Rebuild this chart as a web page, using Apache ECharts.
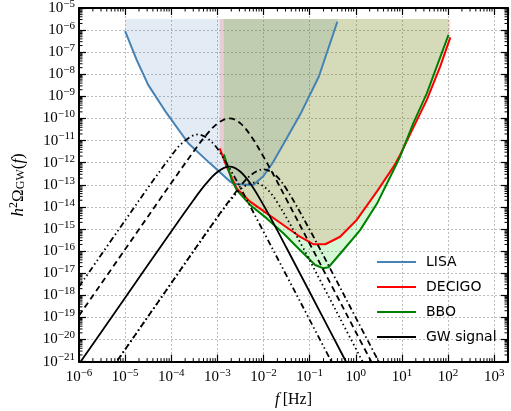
<!DOCTYPE html>
<html><head><meta charset="utf-8">
<script src="https://cdn.jsdelivr.net/npm/echarts@6/dist/echarts.min.js"></script>
<style>html,body{margin:0;padding:0;background:#fff}#c{width:511px;height:411px}</style>
</head><body><div id="c"></div>
<script>
// All positions are decimal exponents: x = log10(f / Hz), y = log10(h^2 Omega_GW)
// ---- axis ticks (log10 exponents) ----
const xTickExps = [-6,-5,-4,-3,-2,-1,0,1,2,3];
const yTickExps = [-21,-20,-19,-18,-17,-16,-15,-14,-13,-12,-11,-10,-9,-8,-7,-6,-5];
const minorMantissas = [2,3,4,5,6,7,8,9];

// ---- detector curves ----
const lisaLogF     = [-5.0,-4.75,-4.5,-4.1,-3.63,-3.16,-2.72,-2.65,-2.29,-2.22,-2.0,-1.8,-1.5,-1.2,-0.8,-0.4];
const lisaLogOmega = [-6.05,-7.35,-8.48,-9.76,-11.12,-12.03,-12.86,-12.95,-13.01,-13.01,-12.6,-12.0,-10.9,-9.8,-8.1,-5.62];

const decigoLogF     = [-2.95,-2.8,-2.58,-2.29,-1.93,-1.57,-1.21,-0.92,-0.66,-0.34,0.02,0.46,0.82,0.96,1.25,1.54,1.83,2.05];
const decigoLogOmega = [-11.35,-12.18,-13.16,-13.76,-14.29,-14.82,-15.35,-15.69,-15.69,-15.35,-14.59,-13.3,-12.18,-11.65,-10.4,-9.16,-7.65,-6.33];

const bboLogF     = [-2.86,-2.69,-2.58,-2.29,-1.93,-1.57,-1.21,-0.88,-0.70,-0.59,-0.27,0.095,0.46,0.82,0.96,1.25,1.54,2.01];
const bboLogOmega = [-11.62,-12.78,-13.24,-13.91,-14.52,-15.19,-15.95,-16.63,-16.78,-16.73,-15.95,-15.05,-13.85,-12.33,-11.73,-10.2,-8.86,-6.22];

const fillTopLog = -5.5;

// ---- GW signal curves ----
const gwSolidLogF     = [-6,-5,-4,-3.5,-3.25,-3,-2.74,-2.5,-2.25,-2,-1.75,-1.5,-1,-0.5,0];
const gwSolidLogOmega = [-21.11,-18.11,-15.11,-13.64,-12.96,-12.42,-12.18,-12.41,-13.05,-13.92,-14.87,-15.86,-17.85,-19.85,-21.85];

const gwDashedLogF     = [-6,-5,-4,-3.5,-3.25,-3,-2.74,-2.5,-2.25,-2,-1.75,-1.5,-1,-0.5,0,0.5];
const gwDashedLogOmega = [-18.92,-15.92,-12.92,-11.45,-10.77,-10.23,-9.99,-10.22,-10.86,-11.73,-12.68,-13.67,-15.66,-17.66,-19.66,-21.66];

const gwDashDotDotLogF     = [-6,-5,-4.5,-4,-3.75,-3.42,-3.1,-2.8,-2.5,-2,-1.5,-1,-0.5];
const gwDashDotDotLogOmega = [-17.61,-14.61,-13.12,-11.69,-11.09,-10.72,-11.11,-12.03,-13.14,-15.12,-17.11,-19.11,-21.11];

const gwDashDotLogF     = [-6,-5,-4,-3,-2.5,-2.25,-2,-1.75,-1.5,-1,-0.5,0,0.5];
const gwDashDotLogOmega = [-23.45,-20.45,-17.45,-14.46,-13.06,-12.52,-12.3,-12.55,-13.2,-15.03,-17.01,-19.01,-21.01];

const gwDottedLogF     = [-6,-5,-4,-3,-2.7,-2.45,-2.2,-1.95,-1.7,-1.2,-0.7,-0.2,0.3];
const gwDottedLogOmega = [-23.45,-20.45,-17.45,-14.48,-13.66,-13.12,-12.9,-13.15,-13.8,-15.63,-17.61,-19.61,-21.61];

const legendNames = ['LISA','DECIGO','BBO','GW signal'];

const X_MIN = -6, X_MAX = 3.3, Y_MIN = -21, Y_MAX = -5;

function pts(lx, ly){ return lx.map((v,i)=>[v, ly[i]]); }

const serif = "'Liberation Serif', 'DejaVu Serif', serif";
const sans = "'DejaVu Sans', sans-serif";

function powLabel(v){
  const e = Math.round(v);
  if (Math.abs(v - e) > 1e-6) return '';
  return '{b|10}{s|' + (e < 0 ? '\u2212' + (-e) : e) + '}';
}
const labelRich = {
  b: {fontFamily: serif, fontSize: 15, color: '#000'},
  s: {fontFamily: serif, fontSize: 11, color: '#000', padding: [0,0,8,0]}
};

function fillSeries(lx, ly, color, z){
  const data = pts(lx, ly);
  return {
    type: 'custom', silent: true, z: z, clip: true,
    xAxisIndex: 0, yAxisIndex: 0,
    data: [data[0]],
    renderItem: function(params, api){
      const poly = data.map(p => api.coord(p));
      poly.push(api.coord([data[data.length-1][0], fillTopLog]));
      poly.push(api.coord([data[0][0], fillTopLog]));
      return {type: 'polygon', shape: {points: poly}, style: {fill: color}};
    }
  };
}

// minor ticks at log10(m) + e
const minorX = [], minorY = [];
xTickExps.forEach(e => minorMantissas.forEach(m => { const v = e + Math.log10(m); if (v < X_MAX) minorX.push(v); }));
yTickExps.forEach(e => minorMantissas.forEach(m => { const v = e + Math.log10(m); if (v < Y_MAX) minorY.push(v); }));

const minorTickSeries = {
  type: 'custom', silent: true, z: 20, clip: false,
  xAxisIndex: 0, yAxisIndex: 0,
  data: [[0, -13]],
  renderItem: function(params, api){
    const x0 = api.coord([X_MIN, Y_MIN]), x1 = api.coord([X_MAX, Y_MAX]);
    const left = x0[0], bottom = x0[1], right = x1[0], top = x1[1];
    const L = 3.5, children = [];
    const st = {stroke: '#000', lineWidth: 1};
    minorX.forEach(v => {
      const x = api.coord([v, Y_MIN])[0];
      children.push({type:'line', shape:{x1:x,y1:bottom,x2:x,y2:bottom-L}, style: st});
      children.push({type:'line', shape:{x1:x,y1:top,x2:x,y2:top+L}, style: st});
    });
    minorY.forEach(v => {
      const y = api.coord([X_MIN, v])[1];
      children.push({type:'line', shape:{x1:left,y1:y,x2:left+L,y2:y}, style: st});
      children.push({type:'line', shape:{x1:right,y1:y,x2:right-L,y2:y}, style: st});
    });
    return {type:'group', children: children};
  }
};

function lineSeries(name, lx, ly, color, width, type, smooth, z){
  return {
    name: name, type: 'line', data: pts(lx, ly), symbol: 'none', showSymbol: false, smooth: smooth,
    xAxisIndex: 0, yAxisIndex: 0, z: z, clip: true,
    lineStyle: {color: color, width: width, type: type},
    itemStyle: {color: color}, emphasis: {disabled: true}
  };
}

const axisCommon = {
  type: 'value', interval: 1,
  axisLine: {show: true, onZero: false, lineStyle: {color: '#000', width: 2}},
  axisTick: {show: true, inside: true, length: 7, lineStyle: {color: '#000', width: 1.2}},
  minorTick: {show: false}
};

const option = {
  animation: false,
  backgroundColor: '#fff',
  grid: {left: 79, top: 8, width: 429, height: 353.6, containLabel: false, outerBoundsMode: 'none'},
  legend: {
    data: legendNames, orient: 'vertical', left: 372, top: 250,
    icon: 'rect', itemWidth: 39, itemHeight: 2, itemGap: 11,
    textStyle: {fontFamily: sans, fontSize: 14, lineHeight: 14, color: '#000', padding: [0,0,0,5]},
    selectedMode: false
  },
  xAxis: [
    Object.assign({}, axisCommon, {
      min: X_MIN, max: X_MAX, position: 'bottom',
      name: '{i|f} {n|[Hz]}', nameLocation: 'middle', nameGap: 30,
      nameTextStyle: {rich: {i: {fontFamily: serif, fontStyle: 'italic', fontSize: 16, color:'#000'}, n: {fontFamily: serif, fontSize: 16, color:'#000'}}},
      axisLabel: {formatter: powLabel, rich: labelRich, margin: 6, showMaxLabel: false, showMinLabel: true},
      splitLine: {show: true, lineStyle: {color: '#bdbdbd', width: 1, type: [2, 2]}}
    }),
    Object.assign({}, axisCommon, {
      min: X_MIN, max: X_MAX, position: 'top',
      axisLabel: {show: false}, splitLine: {show: false}
    })
  ],
  yAxis: [
    Object.assign({}, axisCommon, {
      min: Y_MIN, max: Y_MAX, position: 'left',
      name: '{i|h}{sup|2}{n|\u03A9}{sub|GW}{n|(}{i|f}{n|)}', nameLocation: 'middle', nameGap: 50, nameRotate: 90,
      nameTextStyle: {rich: {
        i: {fontFamily: serif, fontStyle: 'italic', fontSize: 17, color:'#000'},
        n: {fontFamily: serif, fontSize: 17, color:'#000'},
        sup: {fontFamily: serif, fontSize: 12, color:'#000', padding: [0,0,9,0]},
        sub: {fontFamily: serif, fontSize: 12, color:'#000', padding: [5,0,0,0]}
      }},
      axisLabel: {formatter: powLabel, rich: labelRich, margin: 4, showMaxLabel: true, showMinLabel: true},
      splitLine: {show: true, lineStyle: {color: '#bdbdbd', width: 1, type: [2, 2]}}
    }),
    Object.assign({}, axisCommon, {
      min: Y_MIN, max: Y_MAX, position: 'right',
      axisLabel: {show: false}, splitLine: {show: false}
    })
  ],
  series: [
    fillSeries(lisaLogF, lisaLogOmega, 'rgba(70,130,180,0.15)', 1),
    fillSeries(decigoLogF, decigoLogOmega, 'rgba(255,0,0,0.13)', 2),
    fillSeries(bboLogF, bboLogOmega, 'rgba(0,206,0,0.165)', 3),
    lineSeries('LISA', lisaLogF, lisaLogOmega, '#4682b4', 2, 'solid', false, 5),
    lineSeries('DECIGO', decigoLogF, decigoLogOmega, '#ff0000', 2, 'solid', false, 5),
    lineSeries('BBO', bboLogF, bboLogOmega, '#008000', 2, 'solid', false, 5),
    lineSeries('GW signal', gwSolidLogF, gwSolidLogOmega, '#000', 1.8, 'solid', 0.35, 6),
    lineSeries('GW dashed', gwDashedLogF, gwDashedLogOmega, '#000', 1.8, [6,4], 0.35, 6),
    lineSeries('GW dash-dot-dot', gwDashDotDotLogF, gwDashDotDotLogOmega, '#000', 1.8, [6,3,1.5,3,1.5,3], 0.35, 6),
    lineSeries('GW dash-dot', gwDashDotLogF, gwDashDotLogOmega, '#000', 1.8, [6,3,1.5,3], 0.35, 6),
    lineSeries('GW dotted', gwDottedLogF, gwDottedLogOmega, '#000', 1.8, [1.5,3], 0.35, 6),
    minorTickSeries
  ]
};

const chart = echarts.init(document.getElementById('c'), null, {renderer: 'canvas'});
chart.setOption(option);
</script>
</body></html>
